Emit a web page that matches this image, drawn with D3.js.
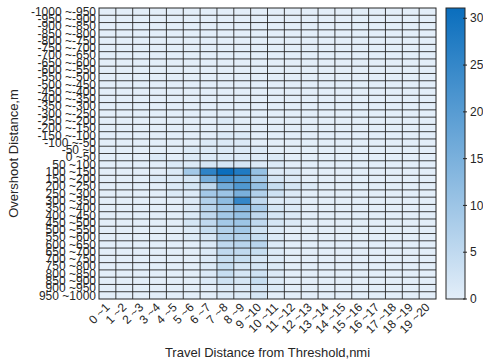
<!DOCTYPE html>
<html>
<head>
<meta charset="utf-8">
<script src="https://cdn.jsdelivr.net/npm/d3@7"></script>
<style>
  html, body { margin: 0; padding: 0; background: #fff; }
  svg { display: block; font-family: "Liberation Sans", Arial, sans-serif; }
</style>
</head>
<body>
<div id="chart"></div>
<script>
// ── Data ─────────────────────────────────────────────────────────────────
const xLabels = ["0 ~1", "1 ~2", "2 ~3", "3 ~4", "4 ~5", "5 ~6", "6 ~7", "7 ~8", "8 ~9", "9 ~10",
  "10 ~11", "11 ~12", "12 ~13", "13 ~14", "14 ~15", "15 ~16", "16 ~17", "17 ~18", "18 ~19", "19 ~20"];

const yLabels = ["-1000 ~-950", "-950 ~-900", "-900 ~-850", "-850 ~-800", "-800 ~-750",
  "-750 ~-700", "-700 ~-650", "-650 ~-600", "-600 ~-550", "-550 ~-500",
  "-500 ~-450", "-450 ~-400", "-400 ~-350", "-350 ~-300", "-300 ~-250",
  "-250 ~-200", "-200 ~-150", "-150 ~-100", "-100 ~-50", "-50 ~0",
  "0 ~50", "50 ~100", "100 ~150", "150 ~200", "200 ~250",
  "250 ~300", "300 ~350", "350 ~400", "400 ~450", "450 ~500",
  "500 ~550", "550 ~600", "600 ~650", "650 ~700", "700 ~750",
  "750 ~800", "800 ~850", "850 ~900", "900 ~950", "950 ~1000"];

// counts per (overshoot row, travel-distance column)
const counts = [
  [0,0,0,0,0,0,0,0,0,0,0,0,0,0,0,0,0,0,0,0],
  [0,0,0,0,0,0,0,0,0,0,0,0,0,0,0,0,0,0,0,0],
  [0,0,0,0,0,0,0,0,0,0,0,0,0,0,0,0,0,0,0,0],
  [0,0,0,0,0,0,0,0,0,0,0,0,0,0,0,0,0,0,0,0],
  [0,0,0,0,0,0,0,0,0,0,0,0,0,0,0,0,0,0,0,0],
  [0,0,0,0,0,0,0,0,0,0,0,0,0,0,0,0,0,0,0,0],
  [0,0,0,0,0,0,0,0,0,0,0,0,0,0,0,0,0,0,0,0],
  [0,0,0,0,0,0,0,0,0,0,0,0,0,0,0,0,0,0,0,0],
  [0,0,0,0,0,0,0,0,0,0,0,0,0,0,0,0,0,0,0,0],
  [0,0,0,0,0,0,0,0,0,0,0,0,0,0,0,0,0,0,0,0],
  [0,0,0,0,0,0,0,0,0,0,0,0,0,0,0,0,0,0,0,0],
  [0,0,0,0,0,0,0,0,0,0,0,0,0,0,0,0,0,0,0,0],
  [0,0,0,0,0,0,0,0,0,0,0,0,0,0,0,0,0,0,0,0],
  [0,0,0,0,0,0,0,0,0,0,0,0,0,0,0,0,0,0,0,0],
  [0,0,0,0,0,0,0,0,0,0,0,0,0,0,0,0,0,0,0,0],
  [0,0,0,0,0,0,0,1,0,0,0,0,0,0,0,0,0,0,0,0],
  [0,0,0,0,0,0,0,0,0,0,0,0,0,0,0,0,0,0,0,0],
  [0,0,0,0,0,0,0,1,1,0,0,0,0,0,0,0,0,0,0,0],
  [0,0,0,0,0,0,1,1,1,0,0,0,0,0,0,0,0,0,0,0],
  [0,0,0,0,0,1,1,1,1,1,0,0,0,0,0,0,0,0,0,0],
  [0,0,0,1,0,1,1,1,1,1,1,0,0,0,0,0,0,0,0,0],
  [0,0,0,0,1,1,2,2,2,1,1,0,0,0,0,0,0,0,0,0],
  [0,0,0,0,1,9,26,31,28,11,1,1,0,0,0,0,0,0,0,0],
  [0,0,0,1,1,2,15,22,21,9,2,1,0,0,0,0,0,0,0,0],
  [0,0,0,0,1,2,5,16,21,11,4,2,1,0,0,0,0,0,0,0],
  [0,0,0,0,1,1,9,10,15,7,3,1,0,0,0,0,0,0,0,0],
  [0,0,0,0,0,1,7,12,25,5,1,1,0,0,0,0,0,0,0,0],
  [0,0,0,0,0,1,6,9,13,8,2,1,0,0,0,0,0,0,0,0],
  [0,0,0,0,0,1,5,9,11,5,2,1,0,0,0,0,0,0,0,0],
  [0,0,0,0,0,2,5,9,10,5,2,1,0,0,0,0,0,0,0,0],
  [0,0,0,0,0,1,4,7,9,3,1,0,0,0,0,0,0,0,0,0],
  [0,0,0,0,0,1,2,7,7,4,1,0,0,0,0,0,0,0,0,0],
  [0,0,0,0,0,0,1,5,6,6,1,0,0,0,0,0,0,0,0,0],
  [0,0,0,0,0,0,1,5,5,4,1,0,0,0,0,0,0,0,0,0],
  [0,0,0,0,0,0,1,4,4,2,1,0,0,0,0,0,0,0,0,0],
  [0,0,0,0,0,0,1,4,2,2,1,0,0,0,0,0,0,0,0,0],
  [0,0,0,0,0,0,1,4,2,3,1,0,0,0,0,0,0,0,0,0],
  [0,0,0,0,0,0,1,3,2,4,1,0,0,0,0,0,0,0,0,0],
  [0,0,0,0,0,0,0,1,1,2,1,0,0,0,0,0,0,0,0,0],
  [0,0,0,0,0,0,0,1,1,2,0,0,0,0,0,0,0,0,0,0]
];

const colorTicks = [0, 5, 10, 15, 20, 25, 30];
const colorMax = 31.1;

// ── Layout ───────────────────────────────────────────────────────────────
const W = 483, H = 364;
const plot = { left: 99, top: 8, right: 436, bottom: 299 };
const cbar = { left: 446, right: 465 };
const LOW = "#e3eef9", HIGH = "#0a6ebd";
const INK = "#262626";

const svg = d3.select("#chart").append("svg")
  .attr("width", W).attr("height", H);

const x = d3.scaleBand().domain(xLabels).range([plot.left, plot.right]).padding(0);
const y = d3.scaleBand().domain(yLabels).range([plot.top, plot.bottom]).padding(0);
const color = d3.scaleLinear().domain([0, colorMax]).range([LOW, HIGH])
  .interpolate(d3.interpolateRgb);

// cells
const cells = [];
counts.forEach((row, i) => row.forEach((v, j) => cells.push({ r: yLabels[i], c: xLabels[j], v })));

svg.append("g").selectAll("rect").data(cells).join("rect")
  .attr("x", d => x(d.c)).attr("y", d => y(d.r))
  .attr("width", x.bandwidth() + 0.2).attr("height", y.bandwidth() + 0.2)
  .attr("fill", d => color(d.v));

// cell grid lines (one line per boundary, fractional positions left as is)
const grid = svg.append("g").attr("stroke", "#1e1e1e").attr("stroke-width", 0.85);
grid.selectAll("line.v").data(xLabels.slice(1)).join("line").attr("class", "v")
  .attr("x1", d => x(d)).attr("x2", d => x(d))
  .attr("y1", plot.top).attr("y2", plot.bottom);
grid.selectAll("line.h").data(yLabels.slice(1)).join("line").attr("class", "h")
  .attr("x1", plot.left).attr("x2", plot.right)
  .attr("y1", d => y(d)).attr("y2", d => y(d));

svg.append("rect")
  .attr("x", plot.left).attr("y", plot.top)
  .attr("width", plot.right - plot.left).attr("height", plot.bottom - plot.top)
  .attr("fill", "none").attr("stroke", INK).attr("stroke-width", 1);

// y tick labels
svg.append("g").selectAll("text").data(yLabels).join("text")
  .attr("x", plot.left - 3).attr("y", d => y(d) + y.bandwidth() / 2)
  .attr("dy", "0.35em").attr("text-anchor", "end")
  .attr("font-size", "12px").attr("fill", INK)
  .text(d => d);

// x tick labels (rotated)
svg.append("g").selectAll("text").data(xLabels).join("text")
  .attr("transform", d => `translate(${x(d) + x.bandwidth() / 2 + 3},${plot.bottom + 9}) rotate(-45)`)
  .attr("text-anchor", "end")
  .attr("font-size", "12px").attr("fill", INK)
  .text(d => d);

// axis titles
svg.append("text")
  .attr("x", (plot.left + plot.right) / 2).attr("y", 357)
  .attr("text-anchor", "middle").attr("font-size", "13px").attr("fill", INK)
  .text("Travel Distance from Threshold,nmi");

svg.append("text")
  .attr("transform", `translate(18,${(plot.top + plot.bottom) / 2}) rotate(-90)`)
  .attr("text-anchor", "middle").attr("font-size", "13px").attr("fill", INK)
  .text("Overshoot Distance,m");

// ── Colorbar ─────────────────────────────────────────────────────────────
const cy = d3.scaleLinear().domain([0, colorMax]).range([plot.bottom, plot.top]);
const defs = svg.append("defs");
const grad = defs.append("linearGradient").attr("id", "cbGrad")
  .attr("x1", 0).attr("y1", 1).attr("x2", 0).attr("y2", 0);
grad.append("stop").attr("offset", "0%").attr("stop-color", LOW);
grad.append("stop").attr("offset", "100%").attr("stop-color", HIGH);

svg.append("rect")
  .attr("x", cbar.left).attr("y", plot.top)
  .attr("width", cbar.right - cbar.left).attr("height", plot.bottom - plot.top)
  .attr("fill", "url(#cbGrad)").attr("stroke", INK).attr("stroke-width", 1);

const cAxis = svg.append("g");
cAxis.selectAll("line").data(colorTicks).join("line")
  .attr("x1", cbar.right - 2).attr("x2", cbar.right + 2)
  .attr("y1", d => cy(d)).attr("y2", d => cy(d))
  .attr("stroke", INK).attr("stroke-width", 1);
cAxis.selectAll("text").data(colorTicks).join("text")
  .attr("x", cbar.right + 5).attr("y", d => cy(d)).attr("dy", "0.35em")
  .attr("font-size", "12px").attr("fill", INK)
  .text(d => d);
</script>
</body>
</html>
